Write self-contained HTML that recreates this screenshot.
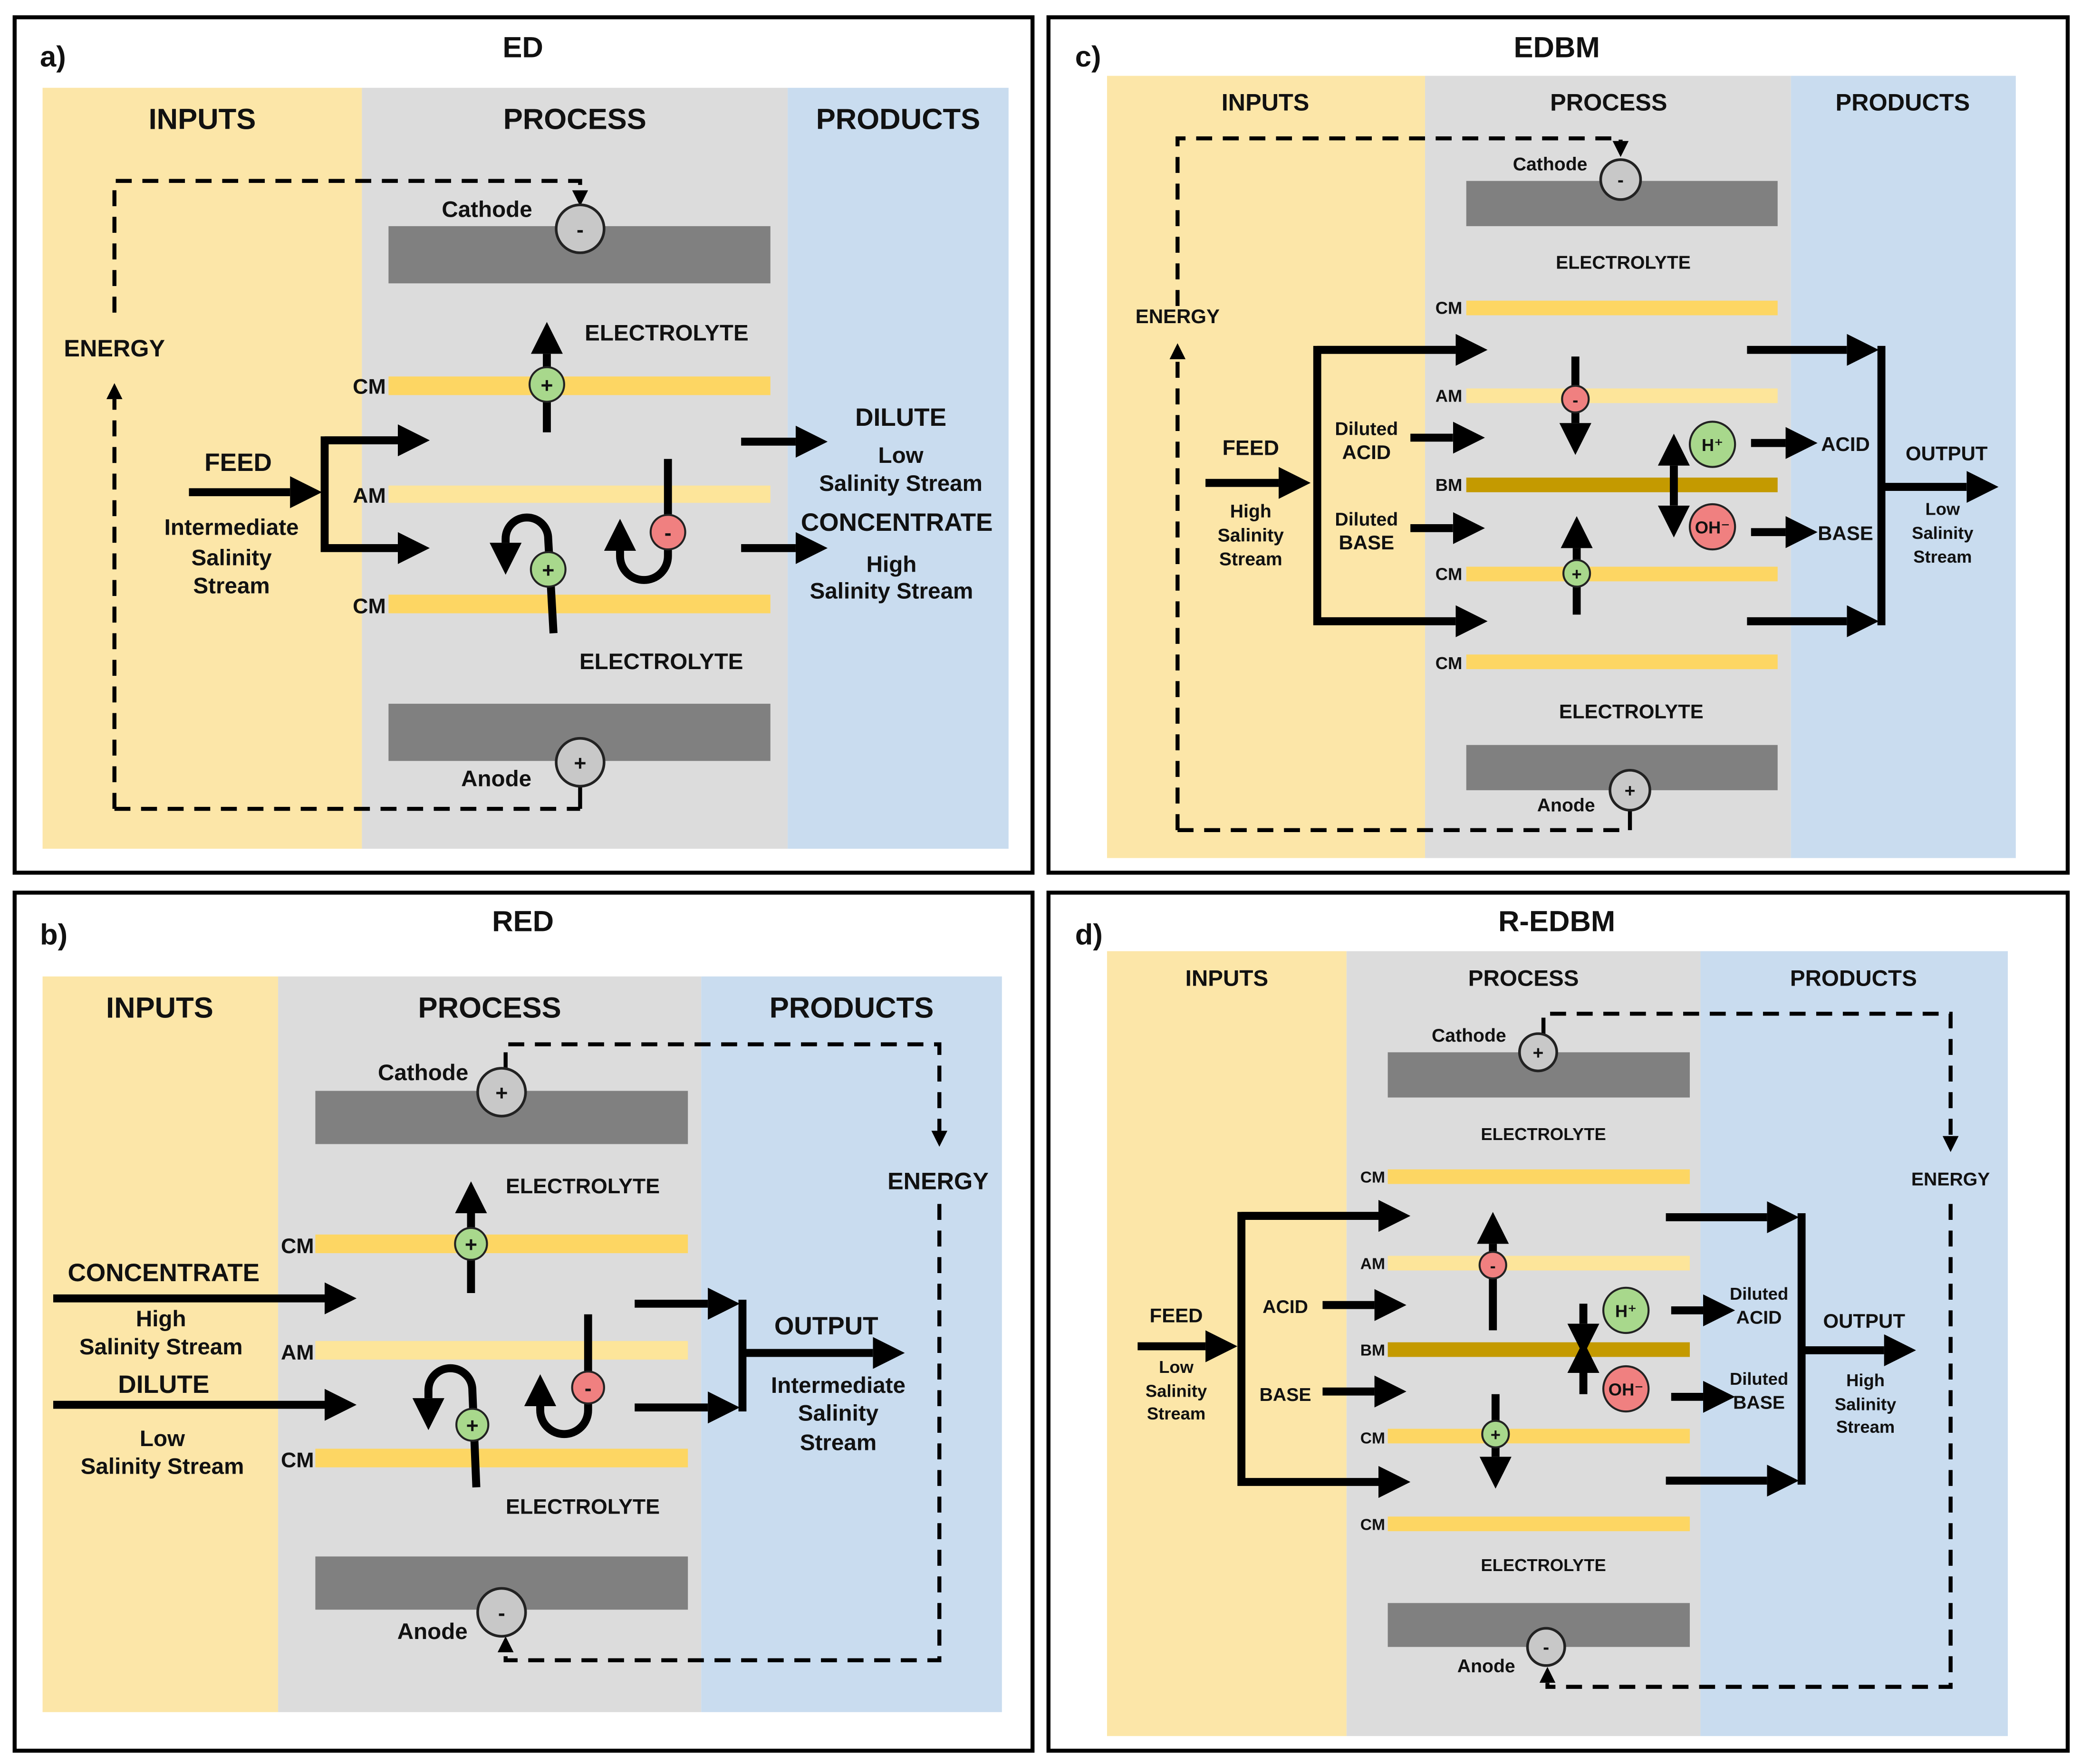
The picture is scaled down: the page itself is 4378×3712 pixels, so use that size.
<!DOCTYPE html>
<html><head><meta charset="utf-8"><style>
html,body{margin:0;padding:0;background:#fff}
svg{display:block}
text{font-family:"Liberation Sans","DejaVu Sans",sans-serif;font-weight:bold;fill:#111;text-anchor:middle}
.r{text-anchor:end}
.in{fill:#FCE6A8}.pr{fill:#DCDCDC}.po{fill:#C9DCEF}
.el{fill:#808080}.cm{fill:#FDD663}.am{fill:#FDE59A}.bm{fill:#C49A00}
.t{stroke:#000;stroke-width:6;fill:none}
.d{stroke:#000;stroke-width:3;fill:none;stroke-dasharray:12 8}
.s{stroke:#000;stroke-width:3;fill:none}
.gc{fill:#C8C8C8;stroke:#222;stroke-width:2}
.g{fill:#A8D88C;stroke:#222;stroke-width:1.5}
.rd{fill:#F08080;stroke:#222;stroke-width:1.5}
.bx{fill:none;stroke:#000;stroke-width:3}
</style></head><body>
<svg width="4378" height="3712" viewBox="0 0 1564 1326" preserveAspectRatio="none" xmlns="http://www.w3.org/2000/svg">
<defs>
<marker id="a" markerWidth="4" markerHeight="4" refX="0" refY="2" orient="auto" markerUnits="strokeWidth"><path d="M0,0L4,2L0,4z" fill="#000"/></marker>
<marker id="as" markerWidth="4" markerHeight="4" refX="0" refY="2" orient="auto-start-reverse" markerUnits="strokeWidth"><path d="M0,0L4,2L0,4z" fill="#000"/></marker>
<marker id="b" markerWidth="4" markerHeight="4" refX="0" refY="2" orient="auto" markerUnits="strokeWidth"><path d="M0,0L4,2L0,4z" fill="#000"/></marker>
</defs>
<rect width="1564" height="1326" fill="#fff"/>

<!-- ===== Panel a ===== -->
<rect class="bx" x="11" y="13" width="765" height="643"/>
<rect class="in" x="32" y="66" width="240" height="572"/>
<rect class="pr" x="272" y="66" width="320" height="572"/>
<rect class="po" x="592" y="66" width="166" height="572"/>
<text x="30" y="50" font-size="22" style="text-anchor:start">a)</text>
<text x="393" y="43" font-size="22">ED</text>
<text x="152" y="97" font-size="22">INPUTS</text>
<text x="432" y="97" font-size="22">PROCESS</text>
<text x="675" y="97" font-size="22">PRODUCTS</text>
<rect class="el" x="292" y="170" width="287" height="43"/>
<rect class="cm" x="292" y="283" width="287" height="14"/>
<rect class="am" x="292" y="365" width="287" height="13"/>
<rect class="cm" x="292" y="447" width="287" height="14"/>
<rect class="el" x="292" y="529" width="287" height="43"/>
<path class="d" d="M86,235 L86,136 L436,136 L436,143" marker-end="url(#b)"/>
<path class="d" d="M86,608 L86,300" marker-end="url(#b)"/>
<path class="d" d="M86,608 L436,608"/>
<line class="s" x1="436" y1="591" x2="436" y2="608"/>
<text x="86" y="268" font-size="18">ENERGY</text>
<text x="366" y="163" font-size="17">Cathode</text>
<circle class="gc" cx="436" cy="172" r="18"/><text x="436" y="178" font-size="16">-</text>
<circle class="gc" cx="436" cy="573" r="18"/><text x="436" y="579" font-size="16">+</text>
<text x="373" y="591" font-size="17">Anode</text>
<text x="501" y="256" font-size="17">ELECTROLYTE</text>
<text x="497" y="503" font-size="17">ELECTROLYTE</text>
<text class="r" x="290" y="296" font-size="16">CM</text>
<text class="r" x="290" y="378" font-size="16">AM</text>
<text class="r" x="290" y="461" font-size="16">CM</text>
<path class="t" d="M411,325 L411,266" marker-end="url(#a)"/>
<circle class="g" cx="411" cy="289" r="13"/><text x="411" y="295" font-size="16">+</text>
<path class="t" d="M142,370 L218,370" marker-end="url(#a)"/>
<text x="179" y="354" font-size="19">FEED</text>
<text x="174" y="402" font-size="17">Intermediate</text>
<text x="174" y="425" font-size="17">Salinity</text>
<text x="174" y="446" font-size="17">Stream</text>
<path class="t" d="M299,331 L244,331 L244,412 L299,412" marker-end="url(#a)"/>
<path class="t" d="M244,331 L299,331" marker-end="url(#a)"/>
<path class="t" d="M416,476 L412,405 A16,16 0 0 0 380,405 L380,408" marker-end="url(#a)"/>
<circle class="g" cx="412" cy="428" r="13"/><text x="412" y="434" font-size="16">+</text>
<path class="t" d="M502,345 L502,418 A18,18 0 0 1 466,418 L466,414" marker-end="url(#a)"/>
<circle class="rd" cx="502" cy="400" r="13"/><text x="502" y="406" font-size="16">-</text>
<path class="t" d="M557,332 L598,332" marker-end="url(#a)"/>
<path class="t" d="M557,412 L598,412" marker-end="url(#a)"/>
<text x="677" y="320" font-size="19">DILUTE</text>
<text x="677" y="348" font-size="17">Low</text>
<text x="677" y="369" font-size="17">Salinity Stream</text>
<text x="674" y="399" font-size="19">CONCENTRATE</text>
<text x="670" y="430" font-size="17">High</text>
<text x="670" y="450" font-size="17">Salinity Stream</text>

<!-- ===== Panel c ===== -->
<rect class="bx" x="788" y="13" width="766" height="643"/>
<rect class="in" x="832" y="57" width="239" height="588"/>
<rect class="pr" x="1071" y="57" width="275" height="588"/>
<rect class="po" x="1346" y="57" width="169" height="588"/>
<text x="808" y="50" font-size="22" style="text-anchor:start">c)</text>
<text x="1170" y="43" font-size="22">EDBM</text>
<text x="951" y="83" font-size="18">INPUTS</text>
<text x="1209" y="83" font-size="18">PROCESS</text>
<text x="1430" y="83" font-size="18">PRODUCTS</text>
<rect class="el" x="1102" y="136" width="234" height="34"/>
<rect class="cm" x="1102" y="226" width="234" height="11"/>
<rect class="am" x="1102" y="292" width="234" height="11"/>
<rect class="bm" x="1102" y="359" width="234" height="11"/>
<rect class="cm" x="1102" y="426" width="234" height="11"/>
<rect class="cm" x="1102" y="492" width="234" height="11"/>
<rect class="el" x="1102" y="560" width="234" height="34"/>
<path class="d" d="M885,230 L885,104 L1218,104 L1218,106" marker-end="url(#b)"/>
<path class="d" d="M885,624 L885,270" marker-end="url(#b)"/>
<path class="d" d="M885,624 L1225,624"/>
<line class="s" x1="1225" y1="609" x2="1225" y2="624"/>
<text x="885" y="243" font-size="15">ENERGY</text>
<text x="1165" y="128" font-size="14">Cathode</text>
<circle class="gc" cx="1218" cy="135" r="15"/><text x="1218" y="140" font-size="14">-</text>
<circle class="gc" cx="1225" cy="594" r="15"/><text x="1225" y="599" font-size="14">+</text>
<text x="1177" y="610" font-size="14">Anode</text>
<text x="1220" y="202" font-size="14">ELECTROLYTE</text>
<text x="1226" y="540" font-size="15">ELECTROLYTE</text>
<text class="r" x="1099" y="236" font-size="13">CM</text>
<text class="r" x="1099" y="302" font-size="13">AM</text>
<text class="r" x="1099" y="369" font-size="13">BM</text>
<text class="r" x="1099" y="436" font-size="13">CM</text>
<text class="r" x="1099" y="503" font-size="13">CM</text>
<path class="t" d="M906,363 L961,363" marker-end="url(#a)"/>
<text x="940" y="342" font-size="16">FEED</text>
<text x="940" y="389" font-size="14">High</text>
<text x="940" y="407" font-size="14">Salinity</text>
<text x="940" y="425" font-size="14">Stream</text>
<path class="t" d="M1094,263 L990,263 L990,467 L1094,467" marker-end="url(#a)"/>
<path class="t" d="M990,263 L1094,263" marker-end="url(#a)"/>
<path class="t" d="M1060,329 L1092,329" marker-end="url(#a)"/>
<path class="t" d="M1060,397 L1092,397" marker-end="url(#a)"/>
<text x="1027" y="327" font-size="14">Diluted</text>
<text x="1027" y="345" font-size="15">ACID</text>
<text x="1027" y="395" font-size="14">Diluted</text>
<text x="1027" y="413" font-size="15">BASE</text>
<path class="t" d="M1184,268 L1184,318" stroke-width="5" marker-end="url(#a)"/>
<circle class="rd" cx="1184" cy="300" r="10"/><text x="1184" y="305" font-size="13">-</text>
<path class="t" d="M1185,462 L1185,412" stroke-width="5" marker-end="url(#a)"/>
<circle class="g" cx="1185" cy="431" r="10"/><text x="1185" y="436" font-size="13">+</text>
<path class="t" d="M1258,350 L1258,380" stroke-width="5" marker-end="url(#as)" marker-start="url(#as)"/>
<circle class="g" cx="1287" cy="334" r="17"/><text x="1287" y="339" font-size="13">H⁺</text>
<circle class="rd" cx="1287" cy="396" r="17"/><text x="1287" y="401" font-size="13">OH⁻</text>
<path class="t" d="M1316,333 L1342,333" marker-end="url(#a)"/>
<path class="t" d="M1316,400 L1342,400" marker-end="url(#a)"/>
<text x="1387" y="339" font-size="15">ACID</text>
<text x="1387" y="406" font-size="15">BASE</text>
<path class="t" d="M1313,263 L1388,263" marker-end="url(#a)"/>
<path class="t" d="M1313,467 L1388,467" marker-end="url(#a)"/>
<line class="t" x1="1414" y1="260" x2="1414" y2="470"/>
<path class="t" d="M1414,366 L1478,366" marker-end="url(#a)"/>
<text x="1463" y="346" font-size="15">OUTPUT</text>
<text x="1460" y="387" font-size="13">Low</text>
<text x="1460" y="405" font-size="13">Salinity</text>
<text x="1460" y="423" font-size="13">Stream</text>

<!-- ===== Panel b ===== -->
<rect class="bx" x="11" y="671" width="765" height="645"/>
<rect class="in" x="32" y="734" width="177" height="553"/>
<rect class="pr" x="209" y="734" width="318" height="553"/>
<rect class="po" x="527" y="734" width="226" height="553"/>
<text x="30" y="710" font-size="22" style="text-anchor:start">b)</text>
<text x="393" y="700" font-size="22">RED</text>
<text x="120" y="765" font-size="22">INPUTS</text>
<text x="368" y="765" font-size="22">PROCESS</text>
<text x="640" y="765" font-size="22">PRODUCTS</text>
<rect class="el" x="237" y="820" width="280" height="40"/>
<rect class="cm" x="237" y="928" width="280" height="14"/>
<rect class="am" x="237" y="1008" width="280" height="14"/>
<rect class="cm" x="237" y="1089" width="280" height="14"/>
<rect class="el" x="237" y="1170" width="280" height="40"/>
<path class="d" d="M380,803 L380,785 L706,785 L706,850" marker-end="url(#b)"/>
<path class="d" d="M706,905 L706,1248 L380,1248 L380,1242" marker-end="url(#b)"/>
<text x="705" y="894" font-size="18">ENERGY</text>
<text x="318" y="812" font-size="17">Cathode</text>
<circle class="gc" cx="377" cy="821" r="18"/><text x="377" y="827" font-size="16">+</text>
<circle class="gc" cx="377" cy="1212" r="18"/><text x="377" y="1218" font-size="16">-</text>
<text x="325" y="1232" font-size="17">Anode</text>
<text x="438" y="897" font-size="16">ELECTROLYTE</text>
<text x="438" y="1138" font-size="16">ELECTROLYTE</text>
<text class="r" x="236" y="942" font-size="16">CM</text>
<text class="r" x="236" y="1022" font-size="16">AM</text>
<text class="r" x="236" y="1103" font-size="16">CM</text>
<path class="t" d="M354,972 L354,912" marker-end="url(#a)"/>
<circle class="g" cx="354" cy="935" r="12"/><text x="354" y="941" font-size="16">+</text>
<text x="123" y="963" font-size="19">CONCENTRATE</text>
<path class="t" d="M40,976 L244,976" marker-end="url(#a)"/>
<text x="121" y="997" font-size="17">High</text>
<text x="121" y="1018" font-size="17">Salinity Stream</text>
<text x="123" y="1047" font-size="19">DILUTE</text>
<path class="t" d="M40,1056 L244,1056" marker-end="url(#a)"/>
<text x="122" y="1087" font-size="17">Low</text>
<text x="122" y="1108" font-size="17">Salinity Stream</text>
<path class="t" d="M358,1118 L355,1045 A16,16 0 0 0 322,1045 L322,1051" marker-end="url(#a)"/>
<circle class="g" cx="355" cy="1071" r="12"/><text x="355" y="1077" font-size="16">+</text>
<path class="t" d="M442,988 L442,1060 A18,18 0 0 1 406,1060 L406,1057" marker-end="url(#a)"/>
<circle class="rd" cx="442" cy="1043" r="12"/><text x="442" y="1049" font-size="16">-</text>
<path class="t" d="M477,980 L532,980" marker-end="url(#a)"/>
<path class="t" d="M477,1058 L532,1058" marker-end="url(#a)"/>
<line class="t" x1="558" y1="977" x2="558" y2="1061"/>
<path class="t" d="M558,1017 L656,1017" marker-end="url(#a)"/>
<text x="621" y="1003" font-size="19">OUTPUT</text>
<text x="630" y="1047" font-size="17">Intermediate</text>
<text x="630" y="1068" font-size="17">Salinity</text>
<text x="630" y="1090" font-size="17">Stream</text>

<!-- ===== Panel d ===== -->
<rect class="bx" x="788" y="671" width="766" height="645"/>
<rect class="in" x="832" y="715" width="180" height="590"/>
<rect class="pr" x="1012" y="715" width="266" height="590"/>
<rect class="po" x="1278" y="715" width="231" height="590"/>
<text x="808" y="710" font-size="22" style="text-anchor:start">d)</text>
<text x="1170" y="700" font-size="22">R-EDBM</text>
<text x="922" y="741" font-size="17">INPUTS</text>
<text x="1145" y="741" font-size="17">PROCESS</text>
<text x="1393" y="741" font-size="17">PRODUCTS</text>
<rect class="el" x="1043" y="791" width="227" height="34"/>
<rect class="cm" x="1043" y="879" width="227" height="11"/>
<rect class="am" x="1043" y="944" width="227" height="11"/>
<rect class="bm" x="1043" y="1009" width="227" height="11"/>
<rect class="cm" x="1043" y="1074" width="227" height="11"/>
<rect class="cm" x="1043" y="1140" width="227" height="11"/>
<rect class="el" x="1043" y="1205" width="227" height="33"/>
<path class="d" d="M1160,777 L1160,762 L1466,762 L1466,854" marker-end="url(#b)"/>
<path class="d" d="M1466,905 L1466,1268 L1163,1268 L1163,1265" marker-end="url(#b)"/>
<text x="1466" y="891" font-size="14">ENERGY</text>
<text x="1104" y="783" font-size="14">Cathode</text>
<circle class="gc" cx="1156" cy="791" r="14"/><text x="1156" y="796" font-size="14">+</text>
<circle class="gc" cx="1162" cy="1238" r="14"/><text x="1162" y="1243" font-size="14">-</text>
<text x="1117" y="1257" font-size="14">Anode</text>
<text x="1160" y="857" font-size="13">ELECTROLYTE</text>
<text x="1160" y="1181" font-size="13">ELECTROLYTE</text>
<text class="r" x="1041" y="889" font-size="12">CM</text>
<text class="r" x="1041" y="954" font-size="12">AM</text>
<text class="r" x="1041" y="1019" font-size="12">BM</text>
<text class="r" x="1041" y="1085" font-size="12">CM</text>
<text class="r" x="1041" y="1150" font-size="12">CM</text>
<text x="884" y="994" font-size="15">FEED</text>
<text x="884" y="1032" font-size="13">Low</text>
<text x="884" y="1050" font-size="13">Salinity</text>
<text x="884" y="1067" font-size="13">Stream</text>
<path class="t" d="M855,1012 L906,1012" marker-end="url(#a)"/>
<path class="t" d="M1036,914 L933,914 L933,1114 L1036,1114" marker-end="url(#a)"/>
<path class="t" d="M933,914 L1036,914" marker-end="url(#a)"/>
<text x="966" y="987" font-size="14">ACID</text>
<path class="t" d="M994,981 L1033,981" marker-end="url(#a)"/>
<text x="966" y="1053" font-size="14">BASE</text>
<path class="t" d="M994,1046 L1033,1046" marker-end="url(#a)"/>
<path class="t" d="M1122,1000 L1122,935" stroke-width="5" marker-end="url(#a)"/>
<circle class="rd" cx="1122" cy="951" r="10"/><text x="1122" y="956" font-size="13">-</text>
<path class="t" d="M1124,1048 L1124,1095" stroke-width="5" marker-end="url(#a)"/>
<circle class="g" cx="1124" cy="1078" r="10"/><text x="1124" y="1083" font-size="13">+</text>
<path class="t" d="M1190,980 L1190,995" stroke-width="5" marker-end="url(#a)"/>
<path class="t" d="M1190,1048 L1190,1032" stroke-width="5" marker-end="url(#a)"/>
<circle class="g" cx="1222" cy="985" r="17"/><text x="1222" y="990" font-size="13">H⁺</text>
<circle class="rd" cx="1222" cy="1044" r="17"/><text x="1222" y="1049" font-size="13">OH⁻</text>
<path class="t" d="M1256,985 L1280,985" stroke-width="5" marker-end="url(#a)"/>
<path class="t" d="M1256,1050 L1280,1050" stroke-width="5" marker-end="url(#a)"/>
<text x="1322" y="977" font-size="13">Diluted</text>
<text x="1322" y="995" font-size="14">ACID</text>
<text x="1322" y="1041" font-size="13">Diluted</text>
<text x="1322" y="1059" font-size="14">BASE</text>
<path class="t" d="M1252,915 L1328,915" marker-end="url(#a)"/>
<path class="t" d="M1252,1113 L1328,1113" marker-end="url(#a)"/>
<line class="t" x1="1354" y1="912" x2="1354" y2="1116"/>
<path class="t" d="M1354,1015 L1416,1015" marker-end="url(#a)"/>
<text x="1401" y="998" font-size="15">OUTPUT</text>
<text x="1402" y="1042" font-size="13">High</text>
<text x="1402" y="1060" font-size="13">Salinity</text>
<text x="1402" y="1077" font-size="13">Stream</text>
</svg>
</body></html>
